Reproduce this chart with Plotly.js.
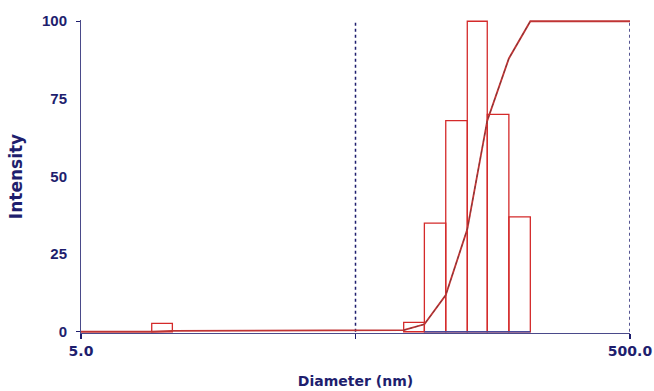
<!DOCTYPE html>
<html>
<head>
<meta charset="utf-8">
<script src="https://cdn.plot.ly/plotly-3.0.1.min.js"></script>
<style>html,body{margin:0;padding:0;background:#fff;}#chart{width:654px;height:391px;}</style>
</head>
<body>
<div id="chart"></div>
<script>
// Size distribution bins (diameter, nm) and intensity
const binLo = [9.05, 74.9, 89.1, 106.6, 127.7, 151, 181];
const binHi = [10.76, 89.1, 106.6, 127.7, 151, 181, 216.7];
const intensity = [2.7, 3.0, 35, 68, 100, 70, 37];

// Cumulative curve
const cumD = [5, 9.05, 10.76, 74.9, 89.1, 106.6, 127.7, 151, 181, 216.7, 500];
const cumY = [0, 0, 0.3, 0.5, 2.4, 11.8, 33, 68, 88, 100, 100];

// Reference (dotted) lines
const refD = [50, 500];
const refY = [0, 100];

// Axis ticks
const xTickVals = [5, 50, 500];
const xTickText = ["5.0", "", "500.0"];
const yTickVals = [0, 25, 50, 75, 100];

const L = Math.log10;
const navy = '#1e1e6e';
const red = '#d42a2a';

const traces = [];
traces.push({
  type: 'bar',
  x: binLo.map((lo, i) => (L(lo) + L(binHi[i])) / 2),
  width: binLo.map((lo, i) => L(binHi[i]) - L(lo)),
  y: intensity,
  marker: {color: 'rgba(255,255,255,0)', line: {color: red, width: 1.3}},
  cliponaxis: false,
  hoverinfo: 'skip'
});
refD.forEach(d => {
  traces.push({
    type: 'scatter', mode: 'lines',
    x: refY.map(() => L(d)), y: refY,
    line: {color: navy, width: 1.5, dash: 'dot'},
    hoverinfo: 'skip'
  });
});
traces.push({
  type: 'scatter', mode: 'lines',
  x: cumD.map(L), y: cumY,
  line: {color: '#c03434', width: 1.8},
  hoverinfo: 'skip'
});
traces.push({
  type: 'scatter', mode: 'lines',
  x: cumD.map(L).slice(3, 10), y: cumY.slice(3, 10),
  line: {color: '#6a3a3a', width: 0.8, dash: '3px,3px'},
  hoverinfo: 'skip'
});
// baseline under the main peak
traces.push({
  type: 'scatter', mode: 'lines',
  x: [L(binLo[2]), L(binHi[binHi.length - 1])], y: [0, 0],
  line: {color: '#4a4a9a', width: 1.5},
  hoverinfo: 'skip'
});
// y ticks only at 0 and 100
traces.push({
  type: 'scatter', mode: 'markers', x: [L(5)], y: [0], yaxis: 'y2',
  marker: {opacity: 0}, hoverinfo: 'skip'
});

const yRange = [-0.4, 100.4];

const layout = {
  width: 654, height: 391,
  margin: {l: 81, r: 24, t: 20, b: 58},
  paper_bgcolor: '#fff', plot_bgcolor: '#fff',
  showlegend: false,
  xaxis: {
    range: [L(5), L(500)],
    tickvals: xTickVals.map(L), ticktext: xTickText,
    ticks: 'outside', ticklen: 5, tickcolor: navy, tickwidth: 1.5,
    showline: true, linecolor: '#4a4a8a', linewidth: 1, layer: 'below traces',
    showgrid: false, zeroline: false,
    tickfont: {family: 'DejaVu Sans', size: 14, color: navy, weight: 'bold'},
    title: {text: 'Diameter (nm)', standoff: 18,
      font: {family: 'DejaVu Sans', size: 14, color: navy, weight: 'bold'}}
  },
  yaxis: {
    range: yRange,
    tickvals: yTickVals,
    ticks: '', ticklabelstandoff: 10,
    showline: true, linecolor: '#4a4a8a', linewidth: 1, layer: 'below traces',
    showgrid: false, zeroline: false,
    tickfont: {family: 'Liberation Sans', size: 15, color: navy, weight: 'bold'},
    title: {text: 'Intensity', standoff: 15,
      font: {family: 'DejaVu Sans', size: 17, color: navy, weight: 'bold'}}
  },
  yaxis2: {
    overlaying: 'y', side: 'left', range: yRange,
    tickvals: [0, 100], ticks: 'outside', ticklen: 4, tickcolor: navy,
    showticklabels: false, showline: false, showgrid: false, zeroline: false
  }
};

Plotly.newPlot('chart', traces, layout, {displayModeBar: false, staticPlot: true});
</script>
</body>
</html>
